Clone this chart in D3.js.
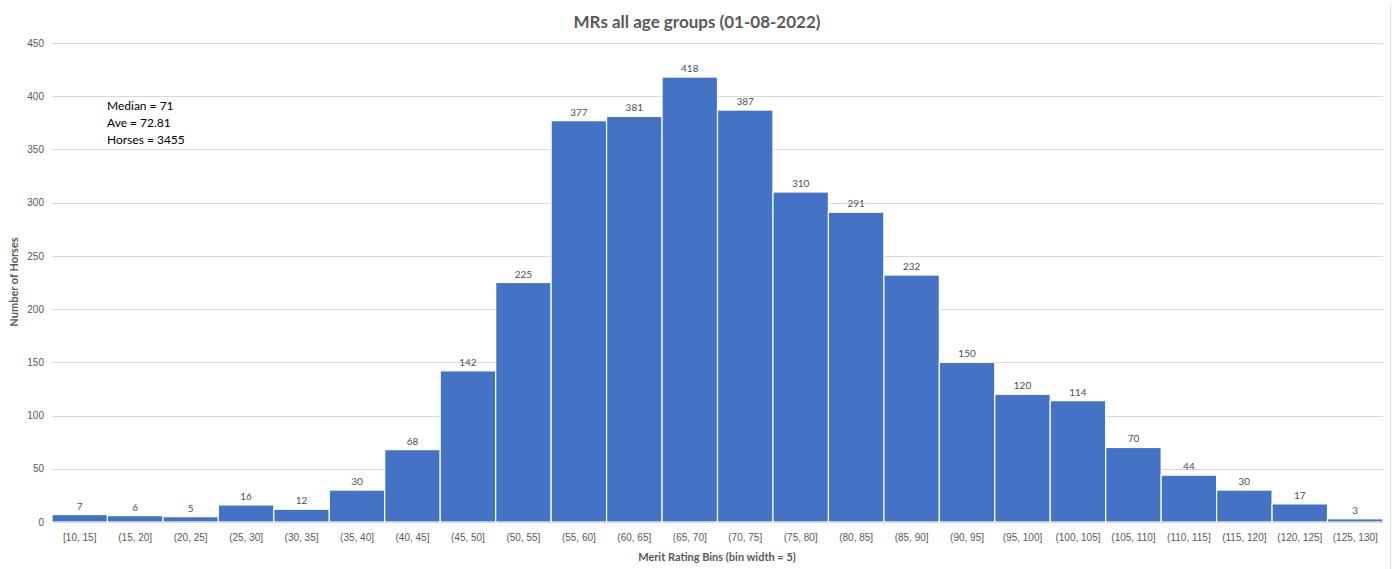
<!DOCTYPE html>
<html>
<head>
<meta charset="utf-8">
<script src="https://cdn.jsdelivr.net/npm/d3@7"></script>
<style>
  body { margin: 0; background: #fff; }
  svg { font-family: Lato, "Open Sans", sans-serif; }
</style>
</head>
<body>
<svg id="chart" width="1397" height="569"></svg>
<script>
// bins and counts
const bins = ["[10, 15]", "(15, 20]", "(20, 25]", "(25, 30]", "(30, 35]", "(35, 40]",
  "(40, 45]", "(45, 50]", "(50, 55]", "(55, 60]", "(60, 65]", "(65, 70]",
  "(70, 75]", "(75, 80]", "(80, 85]", "(85, 90]", "(90, 95]", "(95, 100]",
  "(100, 105]", "(105, 110]", "(110, 115]", "(115, 120]", "(120, 125]", "(125, 130]"];
const counts = [7, 6, 5, 16, 12, 30, 68, 142, 225, 377, 381, 418, 387, 310, 291, 232,
  150, 120, 114, 70, 44, 30, 17, 3];
const yTicks = [0, 50, 100, 150, 200, 250, 300, 350, 400, 450];
const notes = ["Median = 71", "Ave = 72.81", "Horses = 3455"];

const svg = d3.select("#chart");
const margin = { left: 52, right: 14, top: 43, bottom: 47 };
const W = 1397, H = 569;

const x = d3.scaleBand()
    .domain(bins)
    .range([margin.left, W - margin.right])
    .padding(0);
const y = d3.scaleLinear()
    .domain([0, 450])
    .range([H - margin.bottom, margin.top]);

// outer chart border on the right
svg.append("line")
    .attr("x1", 1390.5).attr("x2", 1390.5)
    .attr("y1", 5).attr("y2", H)
    .attr("stroke", "#d9d9d9");

// gridlines
svg.append("g")
    .selectAll("line")
    .data(yTicks)
    .join("line")
    .attr("x1", margin.left).attr("x2", W - margin.right)
    .attr("y1", d => Math.round(y(d)) + 0.5).attr("y2", d => Math.round(y(d)) + 0.5)
    .attr("stroke", "#d9d9d9");

// y axis labels
const yAxis = svg.append("g")
    .attr("transform", `translate(${margin.left},0)`)
    .call(d3.axisLeft(y).tickValues(yTicks).tickSize(0).tickPadding(8));
yAxis.select(".domain").remove();
yAxis.selectAll("text").attr("fill", "#595959").style("font-size", "10px");

// bars
svg.append("g")
    .selectAll("rect")
    .data(counts)
    .join("rect")
    .attr("x", (d, i) => x(bins[i]))
    .attr("y", d => y(d))
    .attr("width", x.bandwidth())
    .attr("height", d => y(0) - y(d))
    .attr("fill", "#4472C4")
    .attr("stroke", "#ffffff")
    .attr("stroke-width", 1.2);

// value labels
svg.append("g")
    .selectAll("text")
    .data(counts)
    .join("text")
    .attr("x", (d, i) => x(bins[i]) + x.bandwidth() / 2)
    .attr("y", d => y(d) - 5)
    .attr("text-anchor", "middle")
    .attr("fill", "#505050")
    .style("font-size", "10px")
    .text(d => d);

// x axis labels
const xAxis = svg.append("g")
    .attr("transform", `translate(0,${y(0)})`)
    .call(d3.axisBottom(x).tickSize(0).tickPadding(12));
xAxis.select(".domain").remove();
xAxis.selectAll("text").attr("fill", "#595959").style("font-size", "10px");

// baseline
svg.append("line")
    .attr("x1", margin.left).attr("x2", W - margin.right)
    .attr("y1", y(0) + 0.5).attr("y2", y(0) + 0.5)
    .attr("stroke", "#d9d9d9");

// title
svg.append("text")
    .attr("x", 697).attr("y", 28)
    .attr("text-anchor", "middle")
    .attr("fill", "#595959")
    .style("font-size", "17px")
    .style("font-weight", "bold")
    .text("MRs all age groups (01-08-2022)");

// axis titles
svg.append("text")
    .attr("x", 717).attr("y", 561)
    .attr("text-anchor", "middle")
    .attr("fill", "#595959")
    .style("font-size", "11px")
    .style("font-weight", "bold")
    .text("Merit Rating Bins (bin width = 5)");

svg.append("text")
    .attr("transform", "translate(18,282) rotate(-90)")
    .attr("text-anchor", "middle")
    .attr("fill", "#595959")
    .style("font-size", "11px")
    .style("font-weight", "bold")
    .text("Number of Horses");

// stats note
svg.append("g")
    .selectAll("text")
    .data(notes)
    .join("text")
    .attr("x", 107)
    .attr("y", (d, i) => 110 + i * 17)
    .attr("fill", "#000")
    .style("font-size", "12px")
    .text(d => d);
</script>
</body>
</html>
